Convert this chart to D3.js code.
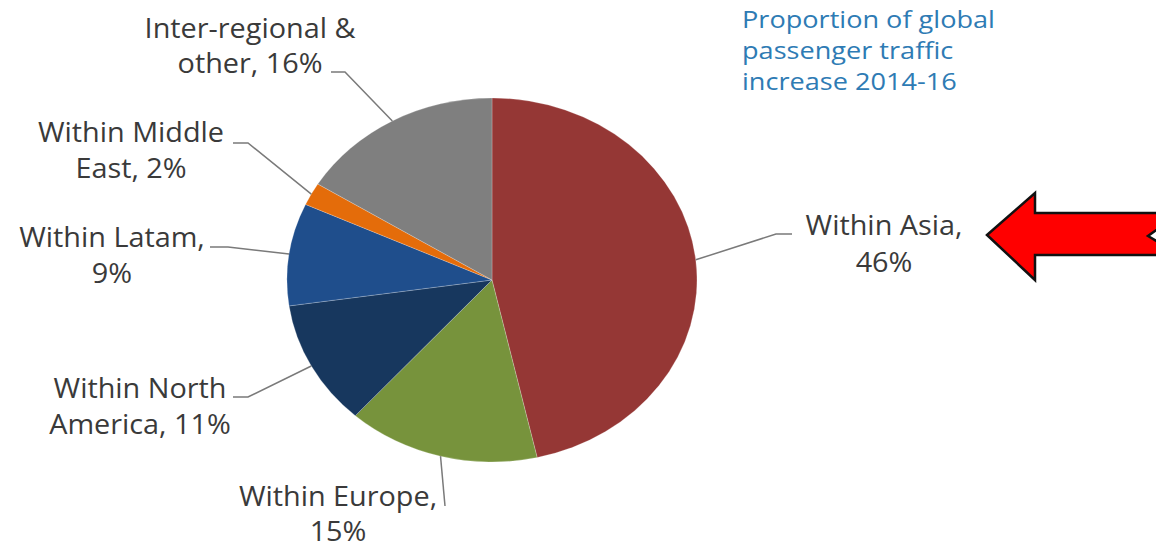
<!DOCTYPE html>
<html><head><meta charset="utf-8">
<script src="https://cdn.jsdelivr.net/npm/d3@7"></script>
<style>body{margin:0;background:#fff;}svg{display:block;}</style>
</head><body>
<svg id="c" width="1156" height="549"></svg>
<script>
const categories = ["Within Asia","Within Europe","Within North America","Within Latam","Within Middle East","Inter-regional & other"];
const values = [46,15,11,9,2,16];
const colors = ["#953735","#77933C","#17375E","#1F4E8C","#E46C0A","#7F7F7F"];
const labelLines = [["Within Asia,","46%"],["Within Europe,","15%"],["Within North","America, 11%"],["Within Latam,","9%"],["Within Middle","East, 2%"],["Inter-regional &","other, 16%"]];
const titleLines = ["Proportion of global","passenger traffic","increase 2014-16"];

// layout: label centre x, first baseline y, line gap, elbow point and text-side end of the leader
const labelPos = [
  {x:884, y:235, gap:37, ex:776, ey:234, tx:792, ty:234},
  {x:338, y:506, gap:35, ex:445, ey:506, tx:445, ty:506},
  {x:140, y:398, gap:36, ex:248, ey:397, tx:233, ty:397},
  {x:112, y:247, gap:36, ex:228, ey:247, tx:210, ty:247},
  {x:131, y:142, gap:36, ex:248, ey:143, tx:233, ty:143},
  {x:250, y:38,  gap:35, ex:345, ey:72,  tx:331, ty:72}
];

const svg = d3.select("#c");
const cx = 492, cy = 280, R = 182, sx = 205/182;

const pie = d3.pie().sort(null).value(d=>d);
const arcs = pie(values);
const arc = d3.arc().innerRadius(0).outerRadius(R);

const g = svg.append("g").attr("transform",`translate(${cx},${cy}) scale(${sx},1)`);
g.selectAll("path").data(arcs).enter().append("path")
  .attr("d",arc).attr("fill",(d,i)=>colors[i])
  .attr("stroke","rgba(255,255,255,0.35)").attr("stroke-width",0.6);

// leader lines
const edge = d => {
  const a = (d.startAngle+d.endAngle)/2;
  return [cx + R*sx*Math.sin(a), cy - R*Math.cos(a)];
};
arcs.forEach((d,i)=>{
  const p = edge(d), L = labelPos[i];
  svg.append("polyline")
    .attr("points",`${p[0]},${p[1]} ${L.ex},${L.ey} ${L.tx},${L.ty}`)
    .attr("fill","none").attr("stroke","#7a7a7a").attr("stroke-width",1.5);
});

const font = "'Open Sans', Lato, sans-serif";
function measure(str, size){
  const t = svg.append("text").attr("font-family",font).attr("font-size",size).text(str);
  const w = t.node().getComputedTextLength(); t.remove(); return w;
}
const labelSize = 27;
const kx = 157 / measure("Within Asia,", labelSize);

labelLines.forEach((lines,i)=>{
  const L = labelPos[i];
  const t = svg.append("text").attr("text-anchor","middle")
    .attr("transform",`translate(${L.x},0) scale(${kx},1)`)
    .attr("font-family",font).attr("font-size",labelSize).attr("fill","#3a3a3a");
  lines.forEach((s,j)=>{
    t.append("tspan").attr("x",0).attr("y",L.y + j*L.gap).text(s);
  });
});

// title
const titleSize = 24;
const tk = 253 / measure("Proportion of global", titleSize);
const tt = svg.append("text").attr("transform",`translate(742,0) scale(${tk},1)`)
  .attr("font-family",font).attr("font-size",titleSize).attr("fill","#2E7BB4");
titleLines.forEach((s,j)=>tt.append("tspan").attr("x",0).attr("y",28+j*31).text(s));

// arrow
const arrowPts = [[987,235],[1035,193],[1035,213],[1180,213],[1148,236],[1180,255],[1035,255],[1035,280]];
svg.append("path").attr("d",d3.line()(arrowPts)+"Z")
  .attr("fill","#FF0000").attr("stroke","#111").attr("stroke-width",2.5).attr("stroke-linejoin","miter");
</script>
</body></html>
